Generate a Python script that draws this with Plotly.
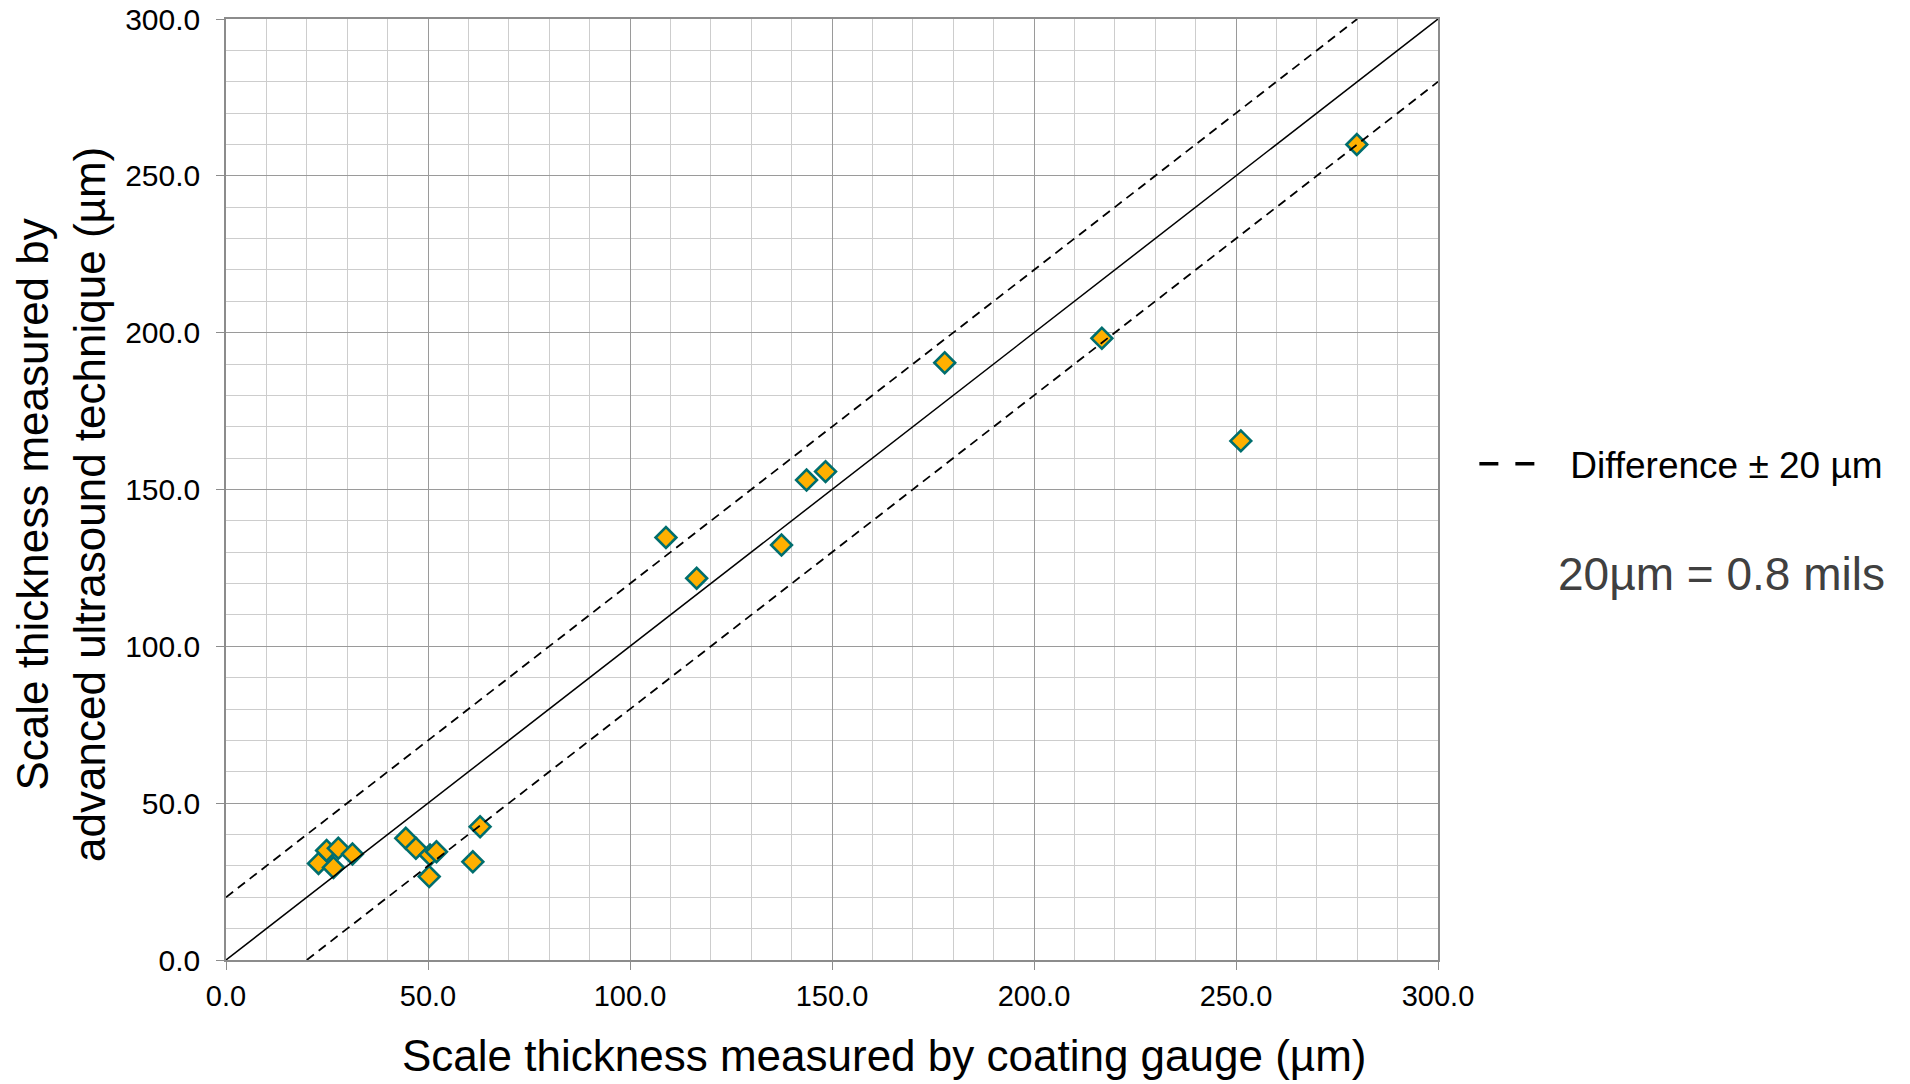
import plotly.graph_objects as go

# ---- data ----
coating_gauge_um = [22.9, 24.9, 26.6, 27.8, 31.3, 44.5, 47.0, 50.3, 50.5, 52.1, 61.1, 62.9,
                    108.9, 116.5, 137.5, 143.7, 148.4, 177.9, 216.8, 251.2, 279.9]
ultrasound_um = [30.8, 34.9, 29.5, 35.6, 33.8, 38.8, 35.6, 26.6, 33.5, 34.5, 31.3, 42.5,
                 134.7, 121.7, 132.3, 153.0, 155.7, 190.4, 198.2, 165.5, 260.0]
axis_min, axis_max = 0.0, 300.0
difference_um = 20.0
tick_values = [0, 50, 100, 150, 200, 250, 300]

FONT = "Liberation Sans, Arial, sans-serif"

# reference lines
ident_x = [axis_min, axis_max]
ident_y = [axis_min, axis_max]
upper_x = [axis_min, axis_max - difference_um]
upper_y = [axis_min + difference_um, axis_max]
lower_x = [axis_min + difference_um, axis_max]
lower_y = [axis_min, axis_max - difference_um]

fig = go.Figure()

fig.add_trace(go.Scatter(
    x=coating_gauge_um, y=ultrasound_um, mode="markers",
    marker=dict(symbol="diamond", size=16, color="#FFB000",
                line=dict(color="#006E6E", width=2.6)),
    showlegend=False, name="Measurements"))

fig.add_trace(go.Scatter(x=ident_x, y=ident_y, mode="lines",
                         line=dict(color="black", width=1.5), showlegend=False))
fig.add_trace(go.Scatter(x=upper_x + [None] + lower_x, y=upper_y + [None] + lower_y,
                         mode="lines", line=dict(color="black", width=1.8, dash="9px,6px"),
                         showlegend=False))
# legend entry for the ±20 µm lines
fig.add_trace(go.Scatter(x=[None], y=[None], mode="lines",
                         line=dict(color="black", width=3.5, dash="19px,17px"),
                         name="\u00a0\u00a0\u00a0Difference \u00b1 20 \u00b5m", showlegend=True))

axis_common = dict(
    range=[axis_min, axis_max], tickvals=tick_values, tickformat=".1f",
    showgrid=True, gridcolor="#9a9a9a", gridwidth=1,
    minor=dict(dtick=10, showgrid=True, gridcolor="#cdcdcd", gridwidth=1, ticks=""),
    showline=True, linecolor="#8c8c8c", linewidth=1.5, mirror=True,
    ticks="outside", ticklen=8, tickcolor="#8c8c8c", tickwidth=1,
    zeroline=False, automargin=False,
)

fig.update_xaxes(**axis_common, ticklabelstandoff=1,
                 tickfont=dict(family=FONT, size=29, color="black"))
fig.update_yaxes(**axis_common, ticklabelstandoff=10,
                 tickfont=dict(family=FONT, size=30, color="black"))

fig.update_layout(
    width=1910, height=1084,
    margin=dict(l=226, r=472, t=19, b=124, autoexpand=False),
    plot_bgcolor="white", paper_bgcolor="white",
    font=dict(family=FONT, color="black"),
    legend=dict(x=1.0300, xanchor="left", y=0.527, yanchor="middle",
                font=dict(family=FONT, size=37, color="black"),
                itemwidth=55, bgcolor="rgba(0,0,0,0)"),
    annotations=[
        dict(text="Scale thickness measured by coating gauge (\u00b5m)",
             xref="paper", yref="paper", x=0.5430, y=-0.1015,
             xanchor="center", yanchor="middle", showarrow=False,
             font=dict(family=FONT, size=44, color="black")),
        dict(text="Scale thickness measured by<br>advanced ultrasound technique (\u00b5m)",
             xref="paper", yref="paper", x=-0.1362, y=0.4846, textangle=-90,
             xanchor="center", yanchor="middle", showarrow=False,
             font=dict(family=FONT, size=44, color="black")),
        dict(text="20\u00b5m = 0.8 mils",
             xref="paper", yref="paper", x=1.0975, y=0.4100,
             xanchor="left", yanchor="middle", showarrow=False,
             font=dict(family=FONT, size=46, color="#404040")),
    ],
)

fig.write_html("out.html", config={"displayModeBar": False},
               post_script="document.body.style.margin='0px';")
